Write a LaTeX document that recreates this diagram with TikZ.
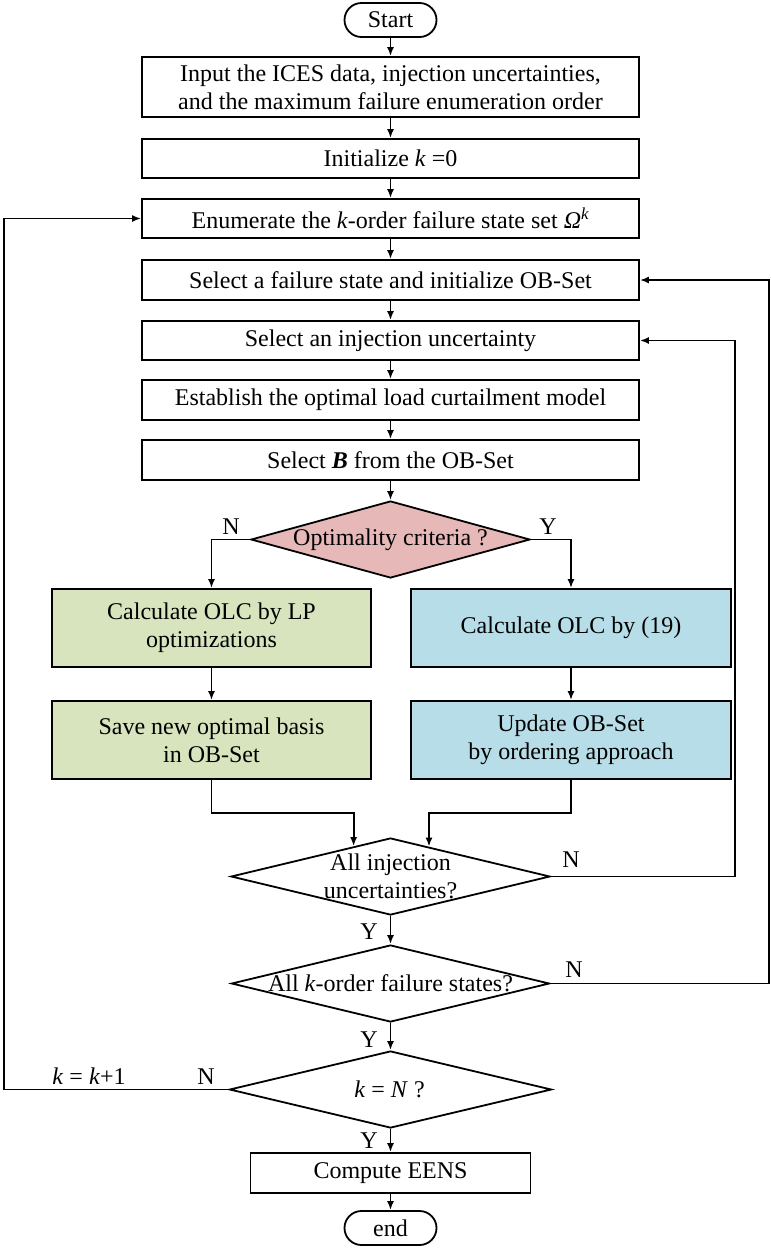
\documentclass[tikz,border=0pt]{standalone}
\usepackage{fontspec}
\setmainfont{Liberation Serif}
\usetikzlibrary{shapes.geometric,arrows.meta,calc}
\definecolor{gfill}{HTML}{D7E4BD}
\definecolor{bfill}{HTML}{B7DEE8}
\definecolor{rfill}{HTML}{E6B9B8}
\begin{document}
\begin{tikzpicture}[x=1pt,y=-1pt,line width=1.8pt,
  every node/.style={font=\fontsize{24}{28}\selectfont},
  box/.style={draw,rectangle,minimum width=497pt,align=center,inner sep=0pt},
  term/.style={draw,rectangle,rounded corners=17pt,minimum width=92pt,minimum height=34pt,inner sep=0pt},
  sidebox/.style={draw,rectangle,minimum width=319pt,minimum height=78pt,align=center,inner sep=0pt},
  dia/.style={draw,diamond,inner sep=0pt},
  txt/.style={align=center,inner sep=0pt},
  lbl/.style={inner sep=0pt},
  arr/.style={-{Latex[length=9pt,width=7pt]}}]
\useasboundingbox (0,0) rectangle (771,1248);

\node[term] (start) at (390.5,20) {Start};
\node[box,minimum height=60pt] (input) at (390.5,87) {Input the ICES data, injection uncertainties,\\and the maximum failure enumeration order};
\node[box,minimum height=39pt] (init) at (390.5,158.5) {Initialize \textit{k} =0};
\node[box,minimum height=39pt] (enum) at (390.5,218.5) {Enumerate the \textit{k}-order failure state set \textit{Ω}\textsuperscript{\textit{k}}};
\node[box,minimum height=40pt] (self) at (390.5,280) {Select a failure state and initialize OB-Set};
\node[box,minimum height=39pt] (selinj) at (390.5,340.5) {Select an injection uncertainty};
\node[box,minimum height=40pt] (est) at (390.5,400) {Establish the optimal load curtailment model};
\node[box,minimum height=40pt] (selb) at (390.5,460) {Select \textbf{\textit{B}} from the OB-Set};

\node[dia,fill=rfill,minimum width=279pt,minimum height=77pt] (opt) at (390.5,539.5) {};
\node[txt] (optt) at (390.5,539.5) {Optimality criteria ?};

\node[sidebox,fill=gfill] (g1) at (211.5,628) {Calculate OLC by LP\\optimizations};
\node[sidebox,fill=bfill,minimum width=320pt] (b1) at (571,628) {Calculate OLC by (19)};
\node[sidebox,fill=gfill] (g2) at (211.5,740) {Save new optimal basis\\in OB-Set};
\node[sidebox,fill=bfill,minimum width=320pt] (b2) at (571,740) {Update OB-Set\\by ordering approach};

\node[dia,minimum width=319pt,minimum height=77pt] (d1) at (390.5,876.5) {};
\node[txt] (d1t) at (390.5,876.5) {All injection\\uncertainties?};
\node[dia,minimum width=318pt,minimum height=77pt] (d2) at (390.5,983.5) {};
\node[txt] (d2t) at (390.5,983.5) {All \textit{k}-order failure states?};
\node[dia,minimum width=322pt,minimum height=77pt] (d3) at (390.5,1089.5) {};
\node[txt] (d3t) at (389.5,1089.5) {\textit{k} = \textit{N} ?};

\node[box,minimum width=280pt,minimum height=40pt] (eens) at (390.5,1173) {Compute EENS};
\node[term] (endn) at (390.5,1228) {end};

% labels
\node[lbl] (n1) at (231,527) {N};
\node[lbl] (y1) at (548,527) {Y};
\node[lbl] (n2) at (571,860) {N};
\node[lbl] (y2) at (369,932) {Y};
\node[lbl] (n3) at (574,970) {N};
\node[lbl] (y3) at (369,1040) {Y};
\node[lbl] (n4) at (206,1077) {N};
\node[lbl] (kk) at (89,1076) {\textit{k} = \textit{k}+1};
\node[lbl] (y4) at (369,1141) {Y};

% loop corner coordinates
\coordinate (r1) at (735,340.5);
\coordinate (r2) at (769,280);
\coordinate (l1) at (4,218.5);

% connectors
\draw[arr] (start) -- (input);
\draw[arr] (input) -- (init);
\draw[arr] (init) -- (enum);
\draw[arr] (enum) -- (self);
\draw[arr] (self) -- (selinj);
\draw[arr] (selinj) -- (est);
\draw[arr] (est) -- (selb);
\draw[arr] (selb.south) -- (opt.north);
\draw[arr] (opt.west) -| (g1.north);
\draw[arr] (opt.east) -| (b1.north);
\draw[arr] (g1) -- (g2);
\draw[arr] (b1) -- (b2);
\draw[arr] (g2.south) -- ++(0,33) -| ($(d1.north)!0.23!(d1.west)$);
\draw[arr] (b2.south) -- ++(0,33) -| ($(d1.north)!0.24!(d1.east)$);
\draw[arr] (d1.south) -- (d2.north);
\draw[arr] (d2.south) -- (d3.north);
\draw[arr] (d3.south) -- (eens.north);
\draw[arr] (eens) -- (endn);
\draw[arr] (d1.east) -| (r1) -- (selinj.east);
\draw[arr] (d2.east) -| (r2) -- (self.east);
\draw[arr] (d3.west) -| (l1) -- (enum.west);
\end{tikzpicture}
\end{document}
